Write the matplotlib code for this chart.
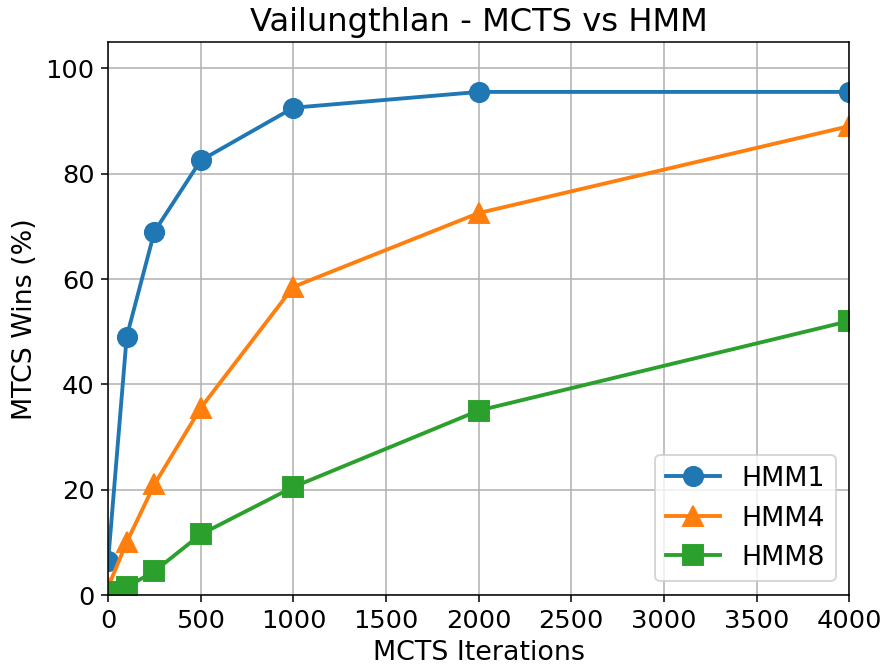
import matplotlib
matplotlib.use("Agg")
import matplotlib.pyplot as plt

iterations = [0, 100, 250, 500, 1000, 2000, 4000]
hmm1 = [6.5, 49, 69, 82.5, 92.5, 95.5, 95.5]
hmm4 = [1.5, 10, 21, 35.5, 58.5, 72.5, 89]
hmm8 = [0.5, 1.5, 4.5, 11.5, 20.5, 35, 52]

plt.rcParams['font.size'] = 13.3

fig = plt.figure(figsize=(6.4, 4.84), dpi=138.5)
plt.plot(iterations, hmm1, "o-", label="HMM1", markersize=10, linewidth=2)
plt.plot(iterations, hmm4, "^-", label="HMM4", markersize=10, linewidth=2)
plt.plot(iterations, hmm8, "s-", label="HMM8", markersize=10, linewidth=2)
plt.xlim(0, 4000)
plt.ylim(0, 105)
plt.grid(True)
plt.xlabel("MCTS Iterations", fontsize=14)
plt.ylabel("MTCS Wins (%)", fontsize=14)
plt.title("Vailungthlan - MCTS vs HMM", fontsize=16.7)
plt.legend(loc="lower right", fontsize=14)
plt.subplots_adjust(left=0.122, right=0.958, top=0.937, bottom=0.112)
plt.savefig("out.png")
plt.close()
